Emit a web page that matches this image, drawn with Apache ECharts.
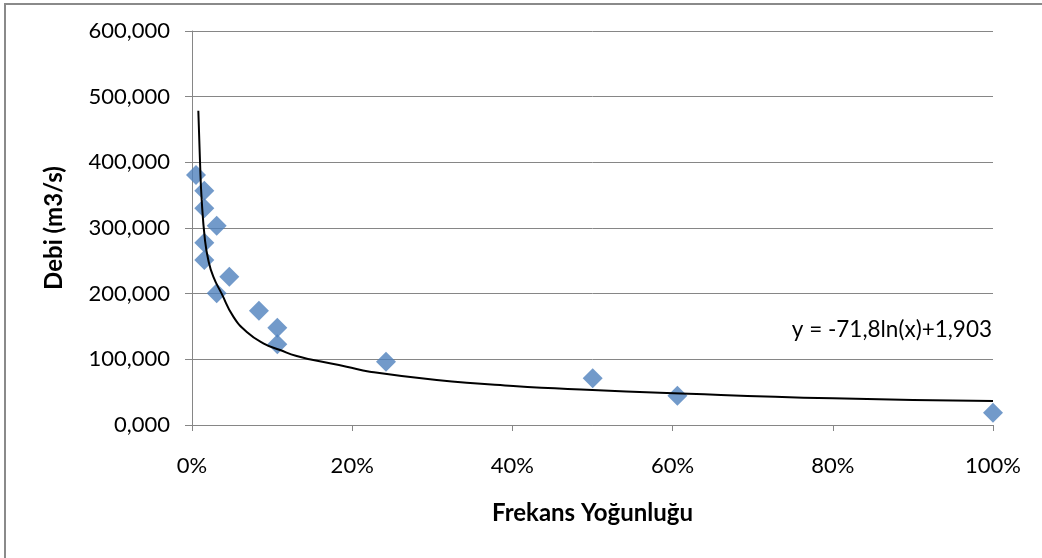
<!DOCTYPE html>
<html>
<head>
<meta charset="utf-8">
<script src="https://cdn.jsdelivr.net/npm/echarts@6/dist/echarts.min.js"></script>
<style>
html,body{margin:0;padding:0;background:#fff;}
#chart{width:1042px;height:558px;}
</style>
</head>
<body>
<div id="chart"></div>
<script>
// Scatter data: frequency (fraction) and flow (Debi, m3/s)
var freqValues = [0.005, 0.0154, 0.0154, 0.0308, 0.0154, 0.0154, 0.0466, 0.0308, 0.0836, 0.1065, 0.1065, 0.2422, 0.5002, 0.606, 1.0];
var flowValues = [380.7, 356.8, 330.0, 303.5, 277.6, 251.3, 225.8, 200.6, 174.0, 148.2, 122.9, 96.4, 71.1, 44.6, 18.7];

// Trendline
var trendX = [0.0079, 0.010, 0.0121, 0.0162, 0.0204, 0.0266, 0.037, 0.0516, 0.068, 0.089, 0.110, 0.1307, 0.1514, 0.193, 0.222, 0.3055, 0.401, 0.500, 0.584, 0.800, 1.0];
var trendY = [478.6, 401.0, 342.6, 281.7, 251.0, 225.8, 200.0, 165.0, 142.0, 124.4, 114.2, 105.0, 99.0, 88.8, 81.2, 68.5, 59.5, 53.3, 49.2, 40.6, 36.5];

var equationText = 'y = -71,8ln(x)+1,903';
var xTitle = 'Frekans Yoğunluğu';
var yTitle = 'Debi (m3/s)';

var FONT = 'Lato';
var scatterData = freqValues.map(function (x, i) { return [x, flowValues[i]]; });
var trendData = trendX.map(function (x, i) { return [x, trendY[i]]; });

var chart = echarts.init(document.getElementById('chart'), null, {renderer: 'canvas'});
chart.setOption({
  backgroundColor: '#ffffff',
  animation: false,
  grid: {left: 192, right: 49, top: 31, bottom: 133, containLabel: false},
  graphic: [
    {type: 'rect', shape: {x: 5, y: 4, width: 1200, height: 800}, style: {fill: 'none', stroke: '#8a8a8a', lineWidth: 2}, z: -1},
    {type: 'text', right: 50, top: 318, style: {text: equationText, font: '22.5px ' + FONT, fill: '#000'}}
  ],
  xAxis: {
    type: 'value', min: 0, max: 1, interval: 0.2,
    name: xTitle, nameLocation: 'middle', nameGap: 76,
    nameTextStyle: {fontFamily: FONT, fontWeight: 'bold', fontSize: 24, color: '#000'},
    axisLine: {show: true, lineStyle: {color: '#868686', width: 1}},
    axisTick: {show: true, length: 6, inside: false, lineStyle: {color: '#868686'}},
    splitLine: {show: false},
    axisLabel: {margin: 30, fontFamily: FONT, fontSize: 22, color: '#000',
      formatter: function (v) { return Math.round(v * 100) + '%'; }}
  },
  yAxis: {
    type: 'value', min: 0, max: 600, interval: 100,
    name: yTitle, nameLocation: 'middle', nameGap: 126, nameRotate: 90,
    nameTextStyle: {fontFamily: FONT, fontWeight: 'bold', fontSize: 24, color: '#000'},
    axisLine: {show: true, lineStyle: {color: '#868686', width: 1}},
    axisTick: {show: true, length: 7, inside: false, lineStyle: {color: '#868686'}},
    splitLine: {show: true, lineStyle: {color: '#868686', width: 1}},
    axisLabel: {margin: 22, fontFamily: FONT, fontSize: 22, color: '#000',
      formatter: function (v) { return v.toFixed(3).replace('.', ','); }}
  },
  series: [
    {
      type: 'scatter', data: scatterData, symbol: 'diamond', symbolSize: 20,
      itemStyle: {color: '#4f81bd'}, z: 2
    },
    {
      type: 'line', data: trendData, smooth: 0.5, showSymbol: false, symbol: 'none',
      lineStyle: {color: '#000', width: 2}, z: 3
    }
  ]
});
</script>
</body>
</html>
